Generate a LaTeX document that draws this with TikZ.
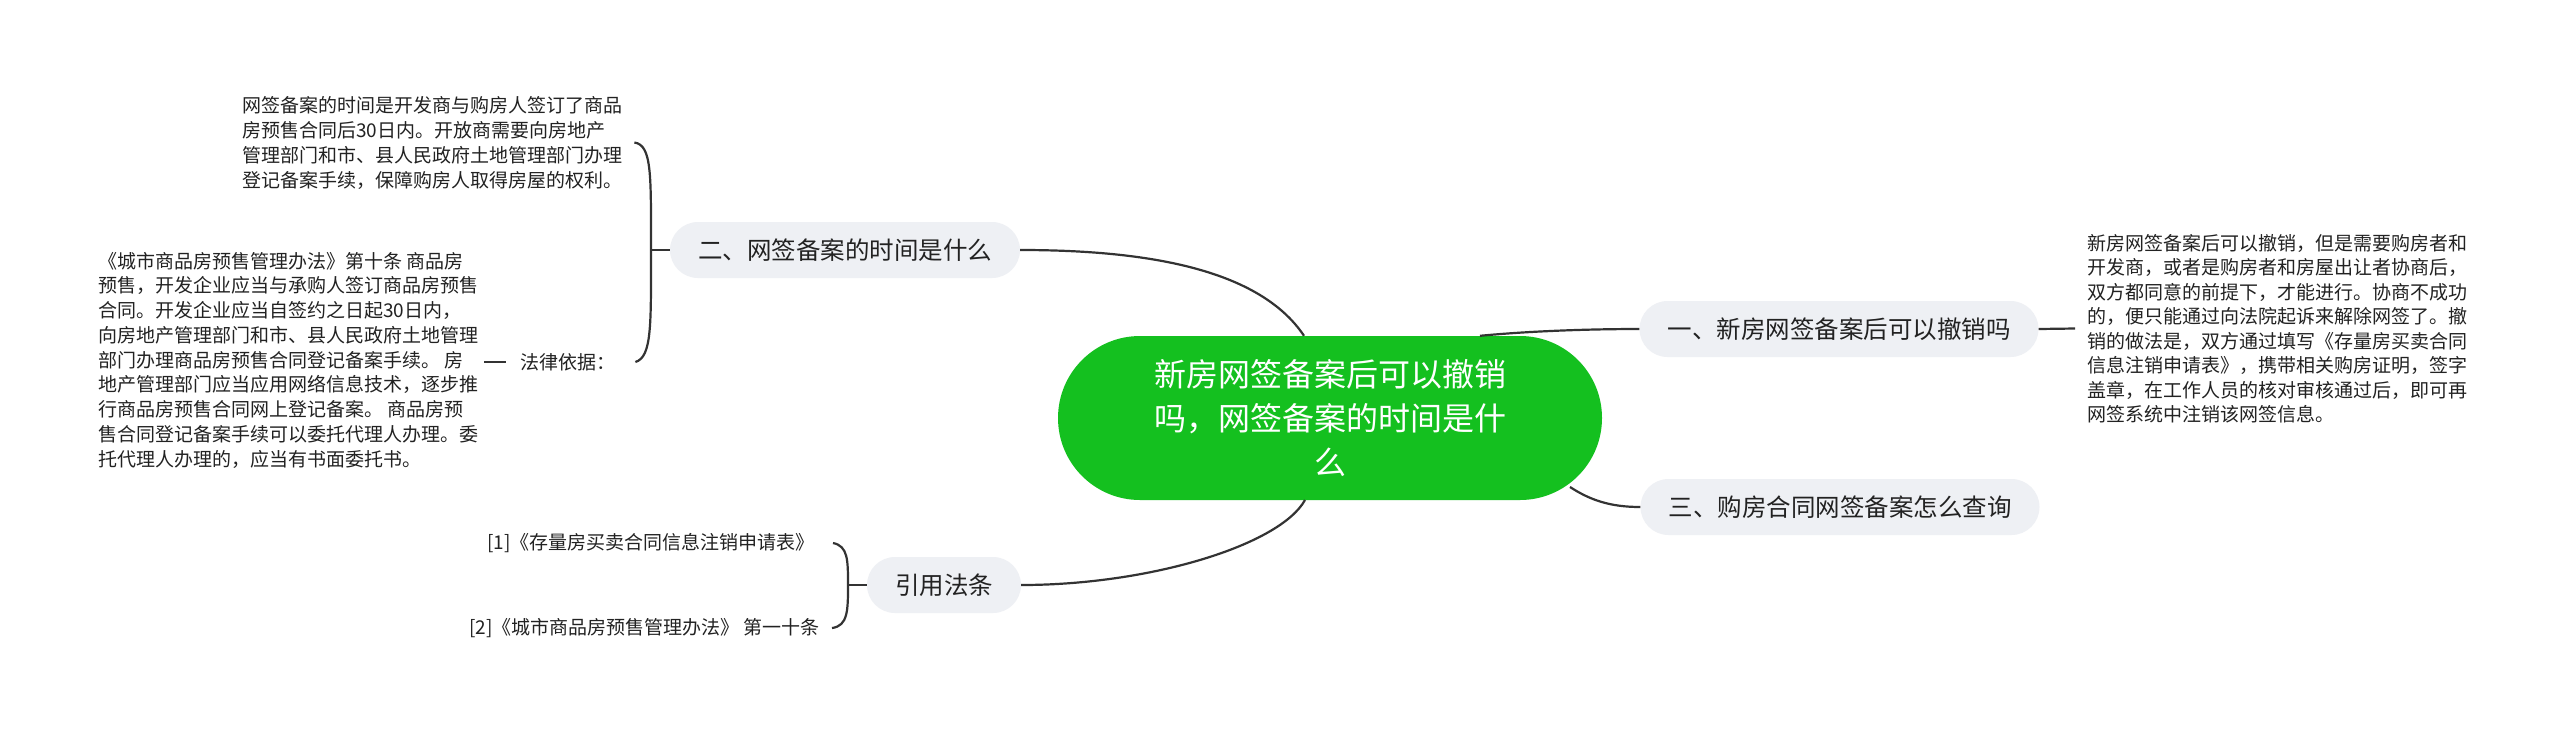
\documentclass[tikz,border=0pt]{standalone}
\usepackage{fontspec}
\newfontfamily\cjk{Noto Sans CJK SC}
\usetikzlibrary{calc}
\definecolor{rootgreen}{HTML}{14C01F}
\definecolor{nodegray}{HTML}{EEF0F4}
\definecolor{linegray}{HTML}{333333}
\definecolor{txt}{HTML}{222222}
\begin{document}
\begin{tikzpicture}[x=1pt,y=-1pt,
  rootbox/.style={fill=rootgreen, rounded corners=82pt, minimum width=544pt, minimum height=164pt,
    text=white, font=\cjk\fontsize{32}{44}\selectfont, align=center, inner sep=0pt},
  subbox/.style={fill=nodegray, rounded corners=28pt, minimum height=56pt, inner xsep=28pt, inner ysep=0pt,
    font=\cjk\fontsize{24.5}{30}\selectfont, text=txt},
  leaf/.style={font=\cjk\fontsize{19}{24.5}\selectfont, align=left, inner sep=0pt, text=txt},
  conn/.style={draw=linegray, line width=2.2pt}
]
\useasboundingbox (0,0) rectangle (2560,732);
\fill[white] (0,0) rectangle (2560,732);

\node[rootbox] (root) at (1330,418) {新房网签备案后可以撤销\\吗，网签备案的时间是什\\么};

\node[subbox] (n1) at (1839,329) {一、新房网签备案后可以撤销吗};
\node[subbox] (n2) at (845,250) {二、网签备案的时间是什么};
\node[subbox] (n3) at (1840,507) {三、购房合同网签备案怎么查询};
\node[subbox] (n4) at (944,585) {引用法条};

\node[leaf, anchor=west] (tr) at (2087,328.5) {新房网签备案后可以撤销，但是需要购房者和\\开发商，或者是购房者和房屋出让者协商后，\\双方都同意的前提下，才能进行。协商不成功\\的，便只能通过向法院起诉来解除网签了。撤\\销的做法是，双方通过填写《存量房买卖合同\\信息注销申请表》，携带相关购房证明，签字\\盖章，在工作人员的核对审核通过后，即可再\\网签系统中注销该网签信息。};

\node[leaf, anchor=west, font=\cjk\fontsize{19}{25}\selectfont] (t1) at (242,142.5) {网签备案的时间是开发商与购房人签订了商品\\房预售合同后30日内。开放商需要向房地产\\管理部门和市、县人民政府土地管理部门办理\\登记备案手续，保障购房人取得房屋的权利。};

\node[leaf, anchor=west, font=\cjk\fontsize{19}{24.75}\selectfont] (t2) at (98,360) {《城市商品房预售管理办法》第十条 商品房\\预售，开发企业应当与承购人签订商品房预售\\合同。开发企业应当自签约之日起30日内，\\向房地产管理部门和市、县人民政府土地管理\\部门办理商品房预售合同登记备案手续。 房\\地产管理部门应当应用网络信息技术，逐步推\\行商品房预售合同网上登记备案。 商品房预\\售合同登记备案手续可以委托代理人办理。委\\托代理人办理的，应当有书面委托书。};

\node[leaf, anchor=west] (lab) at (520,362) {法律依据：};

\node[leaf, anchor=east] (r1) at (815,543) {[1]《存量房买卖合同信息注销申请表》};
\node[leaf, anchor=east] (r2) at (820,628) {[2]《城市商品房预售管理办法》 第一十条};

% root connectors
\draw[conn] (n2.east) .. controls (1150,250) and (1260,270) .. ($(root.north)+(-26,0)$);
\draw[conn] ($(root.north)+(150,0)$) .. controls (1530,331) and (1590,329) .. (n1.west);
\draw[conn] ($(root.center)+(240,69)$) .. controls (1590,500) and (1610,507) .. (n3.west);
\draw[conn] ($(root.center)+(-25,82)$) .. controls (1280,545) and (1150,585) .. (n4.east);

% n1 to text
\draw[conn] (n1.east) -- ($(tr.west)+(-12,0)$);

% n2 bracket
\draw[conn] (n2.west) -- (651,250) coordinate (b2);
\draw[conn] ($(t1.east)+(12,0)$) .. controls (652,145) and (651,175) .. (b2)
  .. controls (651,325) and (652,357) .. ($(lab.east)+(20,0)$);
\draw[conn] ($(t2.east |- lab.west)+(6,0)$) -- ($(lab.west)+(-14,0)$);

% n4 bracket
\draw[conn] (n4.west) -- (848,585) coordinate (b4);
\draw[conn] ($(r1.east)+(18,0)$) .. controls (848,546) and (848,560) .. (b4)
  .. controls (848,610) and (848,626) .. ($(r2.east)+(12,0)$);
\end{tikzpicture}
\end{document}
